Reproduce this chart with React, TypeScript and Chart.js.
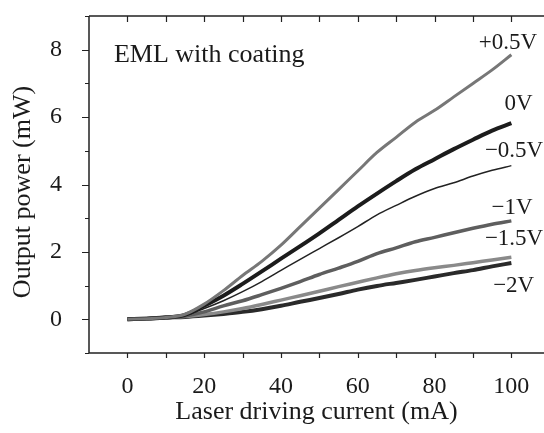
import React, { useEffect, useRef } from "react";
import { Chart, registerables } from "chart.js";

Chart.register(...registerables);

const current = [0, 5, 10, 15, 20, 25, 30, 35, 40, 45, 50, 55, 60, 65, 70, 75, 80, 85, 90, 95, 100];

const p05 = [0, 0.02, 0.05, 0.15, 0.45, 0.85, 1.3, 1.72, 2.2, 2.75, 3.3, 3.85, 4.4, 4.95, 5.4, 5.85, 6.2, 6.6, 7.0, 7.4, 7.85];
const v0 = [0, 0.02, 0.05, 0.13, 0.4, 0.7, 1.05, 1.42, 1.8, 2.17, 2.55, 2.95, 3.35, 3.73, 4.1, 4.45, 4.75, 5.05, 5.33, 5.6, 5.82];
const m05 = [0, 0.02, 0.05, 0.12, 0.32, 0.55, 0.82, 1.12, 1.45, 1.78, 2.1, 2.42, 2.75, 3.1, 3.38, 3.65, 3.88, 4.05, 4.25, 4.42, 4.56];
const m1 = [0, 0.02, 0.05, 0.1, 0.22, 0.4, 0.55, 0.73, 0.92, 1.12, 1.33, 1.52, 1.72, 1.95, 2.12, 2.3, 2.43, 2.57, 2.7, 2.82, 2.92];
const m15 = [0, 0.02, 0.05, 0.08, 0.14, 0.22, 0.32, 0.44, 0.57, 0.7, 0.83, 0.97, 1.1, 1.23, 1.35, 1.45, 1.53, 1.6, 1.68, 1.76, 1.84];
const m2 = [0, 0.02, 0.05, 0.07, 0.11, 0.16, 0.22, 0.3, 0.4, 0.52, 0.63, 0.75, 0.88, 0.99, 1.08, 1.17, 1.27, 1.37, 1.46, 1.57, 1.67];

const seriesNames = ["+0.5V", "0V", "\u22120.5V", "\u22121V", "\u22121.5V", "\u22122V"];
const seriesValues = [p05, v0, m05, m1, m15, m2];
const seriesColors = ["#777777", "#1c1c1c", "#222222", "#5e5e5e", "#8a8a8a", "#2a2a2a"];
const seriesWidths = [3, 4, 1.5, 3.5, 3.5, 4];

// label anchor positions (data coordinates)
const labelX = [99.1, 101.9, 100.7, 100.2, 100.7, 100.6];
const labelY = [8.21, 6.4, 5.0, 3.31, 2.39, 0.99];

const xTicks = [0, 20, 40, 60, 80, 100];
const yTicks = [0, 2, 4, 6, 8];
const xMinor = [0, 10, 20, 30, 40, 50, 60, 70, 80, 90, 100];
const yMinor = [-1, 0, 1, 2, 3, 4, 5, 6, 7, 8, 9];

const annotationText = "EML with coating";
const xTitle = "Laser driving current (mA)";
const yTitle = "Output power (mW)";

const FONT = "'Liberation Serif', 'Times New Roman', serif";

export default function App() {
  const ref = useRef<HTMLCanvasElement | null>(null);

  useEffect(() => {
    if (!ref.current) return;
    const framePlugin = {
      id: "frame",
      afterDraw(chart: any) {
        const { ctx, chartArea, scales } = chart;
        const xs = scales.x;
        const ys = scales.y;
        const { left, top, right, bottom } = chartArea;
        ctx.save();
        ctx.strokeStyle = "#222";
        ctx.lineWidth = 1.5;
        ctx.beginPath();
        ctx.moveTo(left, top);
        ctx.lineTo(right, top);
        ctx.moveTo(left, top);
        ctx.lineTo(left, bottom);
        ctx.moveTo(left, bottom);
        ctx.lineTo(right, bottom);
        ctx.stroke();
        ctx.lineWidth = 1.2;
        ctx.beginPath();
        xMinor.forEach((v) => {
          const px = Math.round(xs.getPixelForValue(v)) + 0.5;
          ctx.moveTo(px, bottom);
          ctx.lineTo(px, bottom + 5);
          ctx.moveTo(px, top);
          ctx.lineTo(px, top + 6);
        });
        yMinor.forEach((v) => {
          const py = Math.round(ys.getPixelForValue(v)) + 0.5;
          const major = v % 2 === 0;
          ctx.moveTo(left, py);
          ctx.lineTo(left - (major ? 7 : 4), py);
        });
        ctx.stroke();

        ctx.fillStyle = "#1a1a1a";
        ctx.textBaseline = "middle";
        ctx.font = "26px " + FONT;
        ctx.textAlign = "left";
        ctx.fillText(annotationText, xs.getPixelForValue(-3.5), ys.getPixelForValue(7.83));

        ctx.font = "23px " + FONT;
        ctx.textAlign = "center";
        seriesNames.forEach((n, i) => {
          ctx.fillText(n, xs.getPixelForValue(labelX[i]), ys.getPixelForValue(labelY[i]));
        });

        ctx.save();
        ctx.translate(23.5, 192);
        ctx.rotate(-Math.PI / 2);
        ctx.font = "26px " + FONT;
        ctx.textAlign = "center";
        ctx.fillText(yTitle, 0, 0);
        ctx.restore();
        ctx.restore();
      },
    };

    const chart = new Chart(ref.current, {
      type: "line",
      data: {
        datasets: seriesNames.map((n, i) => ({
          label: n,
          data: current.map((c, j) => ({ x: c, y: seriesValues[i][j] })),
          borderColor: seriesColors[i],
          borderWidth: seriesWidths[i],
          pointRadius: 0,
          fill: false,
          tension: 0.4,
          cubicInterpolationMode: "monotone" as const,
        })),
      },
      options: {
        responsive: false,
        animation: false,
        layout: { padding: { top: 16, right: 0, left: 0, bottom: 0 } },
        plugins: { legend: { display: false }, tooltip: { enabled: false } },
        scales: {
          x: {
            type: "linear",
            min: -10,
            max: 108.5,
            afterBuildTicks: (s: any) => {
              s.ticks = xTicks.map((v) => ({ value: v }));
            },
            afterFit: (s: any) => {
              s.height = 80;
              s.paddingLeft = 0;
              s.paddingRight = 0;
            },
            grid: { display: false },
            border: { display: false },
            ticks: { font: { family: FONT, size: 24 }, color: "#1a1a1a", padding: 11, maxRotation: 0 },
            title: { display: true, text: xTitle, font: { family: FONT, size: 26 }, color: "#1a1a1a", padding: { top: 0, bottom: 5 } },
          },
          y: {
            type: "linear",
            min: -1,
            max: 9,
            afterBuildTicks: (s: any) => {
              s.ticks = yTicks.map((v) => ({ value: v }));
            },
            afterFit: (s: any) => {
              s.width = 89;
              s.paddingTop = 0;
              s.paddingBottom = 0;
            },
            grid: { display: false },
            border: { display: false },
            ticks: { font: { family: FONT, size: 24 }, color: "#1a1a1a", padding: 19 },
          },
        },
      },
      plugins: [framePlugin],
    });
    return () => chart.destroy();
  }, []);

  return (
    <div style={{ position: "absolute", left: 0, top: 0, width: 544, height: 433, background: "#fff" }}>
      <canvas ref={ref} width={544} height={433} style={{ display: "block" }} />
    </div>
  );
}
